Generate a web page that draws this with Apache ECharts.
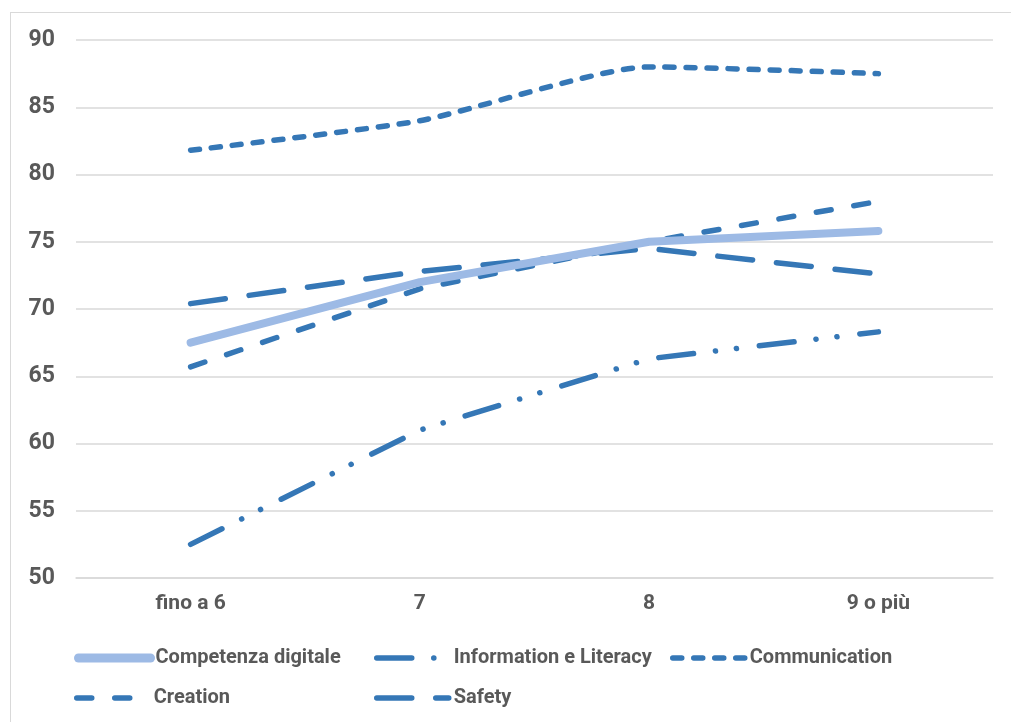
<!DOCTYPE html>
<html>
<head>
<meta charset="utf-8">
<script src="https://cdn.jsdelivr.net/npm/echarts@6/dist/echarts.min.js"></script>
<style>
  html, body { margin: 0; padding: 0; background: #ffffff; }
  #wrap { position: relative; width: 1011px; height: 722px; overflow: hidden; }
  #frame {
    position: absolute; left: 10px; top: 12px; width: 1100px; height: 800px;
    border-top: 1.5px solid #d9d9d9; border-left: 1.5px solid #d9d9d9;
    pointer-events: none;
  }
  #chart { position: absolute; left: 0; top: 0; width: 1011px; height: 722px; }
</style>
</head>
<body>
<div id="wrap">
  <div id="chart"></div>
  <div id="frame"></div>
</div>
<script>
// Categories (grade groups) and score per competence area
const categories = ['fino a 6', '7', '8', '9 o più'];

const competenzaDigitale = [67.5, 72.0, 75.0, 75.8];
const informationLiteracy = [52.5, 61.0, 66.3, 68.3];
const communication = [81.8, 84.0, 88.0, 87.5];
const creation = [65.7, 71.5, 75.0, 78.0];
const safety = [70.4, 72.8, 74.5, 72.6];

const seriesNames = ['Competenza digitale', 'Information e Literacy', 'Communication', 'Creation', 'Safety'];

const yMin = 50, yMax = 90, yStep = 5;

const DARK = '#3577b6';
const LIGHT = '#9dbae5';
const TEXT = '#595959';
const FONT = "Roboto, 'Noto Sans', sans-serif";

const dashes = {
  info: [35, 22, 0.1, 21, 0.1, 23],
  comm: [9, 12],
  creation: [15, 23],
  safety: [35, 24]
};

function lineSeries(name, data, color, width, dash, smooth) {
  return {
    name: name,
    type: 'line',
    data: data,
    symbol: 'none',
    smooth: smooth || false,
    lineStyle: { color: color, width: width, type: dash || 'solid', cap: 'round', join: 'round' },
    itemStyle: { color: color },
    emphasis: { disabled: true },
    z: name === 'Competenza digitale' ? 3 : 2
  };
}

function legendItem(name, left, top, width) {
  return {
    data: [name],
    left: left,
    top: top,
    padding: 0,
    itemWidth: 72,
    itemHeight: 14,
    itemGap: 0,
    selectedMode: false,
    itemStyle: { color: 'transparent', borderWidth: 0, opacity: 0 },
    lineStyle: { width: width, cap: 'round' },
    textStyle: { color: TEXT, fontFamily: FONT, fontWeight: 'bold', fontSize: 20 }
  };
}

const chart = echarts.init(document.getElementById('chart'), null, { renderer: 'canvas' });

chart.setOption({
  backgroundColor: '#ffffff',
  animation: false,
  grid: { left: 76, right: 18, top: 40, bottom: 144, containLabel: false },
  xAxis: {
    type: 'category',
    data: categories,
    boundaryGap: true,
    axisLine: { show: true, lineStyle: { color: '#d9d9d9', width: 1.5 } },
    axisTick: { show: false },
    axisLabel: { color: TEXT, fontFamily: FONT, fontWeight: 'bold', fontSize: 21, margin: 15 }
  },
  yAxis: {
    type: 'value',
    min: yMin,
    max: yMax,
    interval: yStep,
    axisLine: { show: false },
    axisTick: { show: false },
    splitLine: { lineStyle: { color: '#d9d9d9', width: 1.5 } },
    axisLabel: { color: TEXT, fontFamily: FONT, fontWeight: 'bold', fontSize: 23, margin: 21 }
  },
  legend: [
    legendItem(seriesNames[0], 74, 648, 9),
    legendItem(seriesNames[1], 374, 648, 5.5),
    legendItem(seriesNames[2], 670, 648, 5.5),
    legendItem(seriesNames[3], 74, 688, 5.5),
    legendItem(seriesNames[4], 374, 688, 5.5)
  ],
  series: [
    lineSeries(seriesNames[0], competenzaDigitale, LIGHT, 8),
    lineSeries(seriesNames[1], informationLiteracy, DARK, 5.5, dashes.info),
    lineSeries(seriesNames[2], communication, DARK, 5.5, dashes.comm, 0.2),
    lineSeries(seriesNames[3], creation, DARK, 5.5, dashes.creation),
    lineSeries(seriesNames[4], safety, DARK, 5.5, dashes.safety)
  ]
});
</script>
</body>
</html>
